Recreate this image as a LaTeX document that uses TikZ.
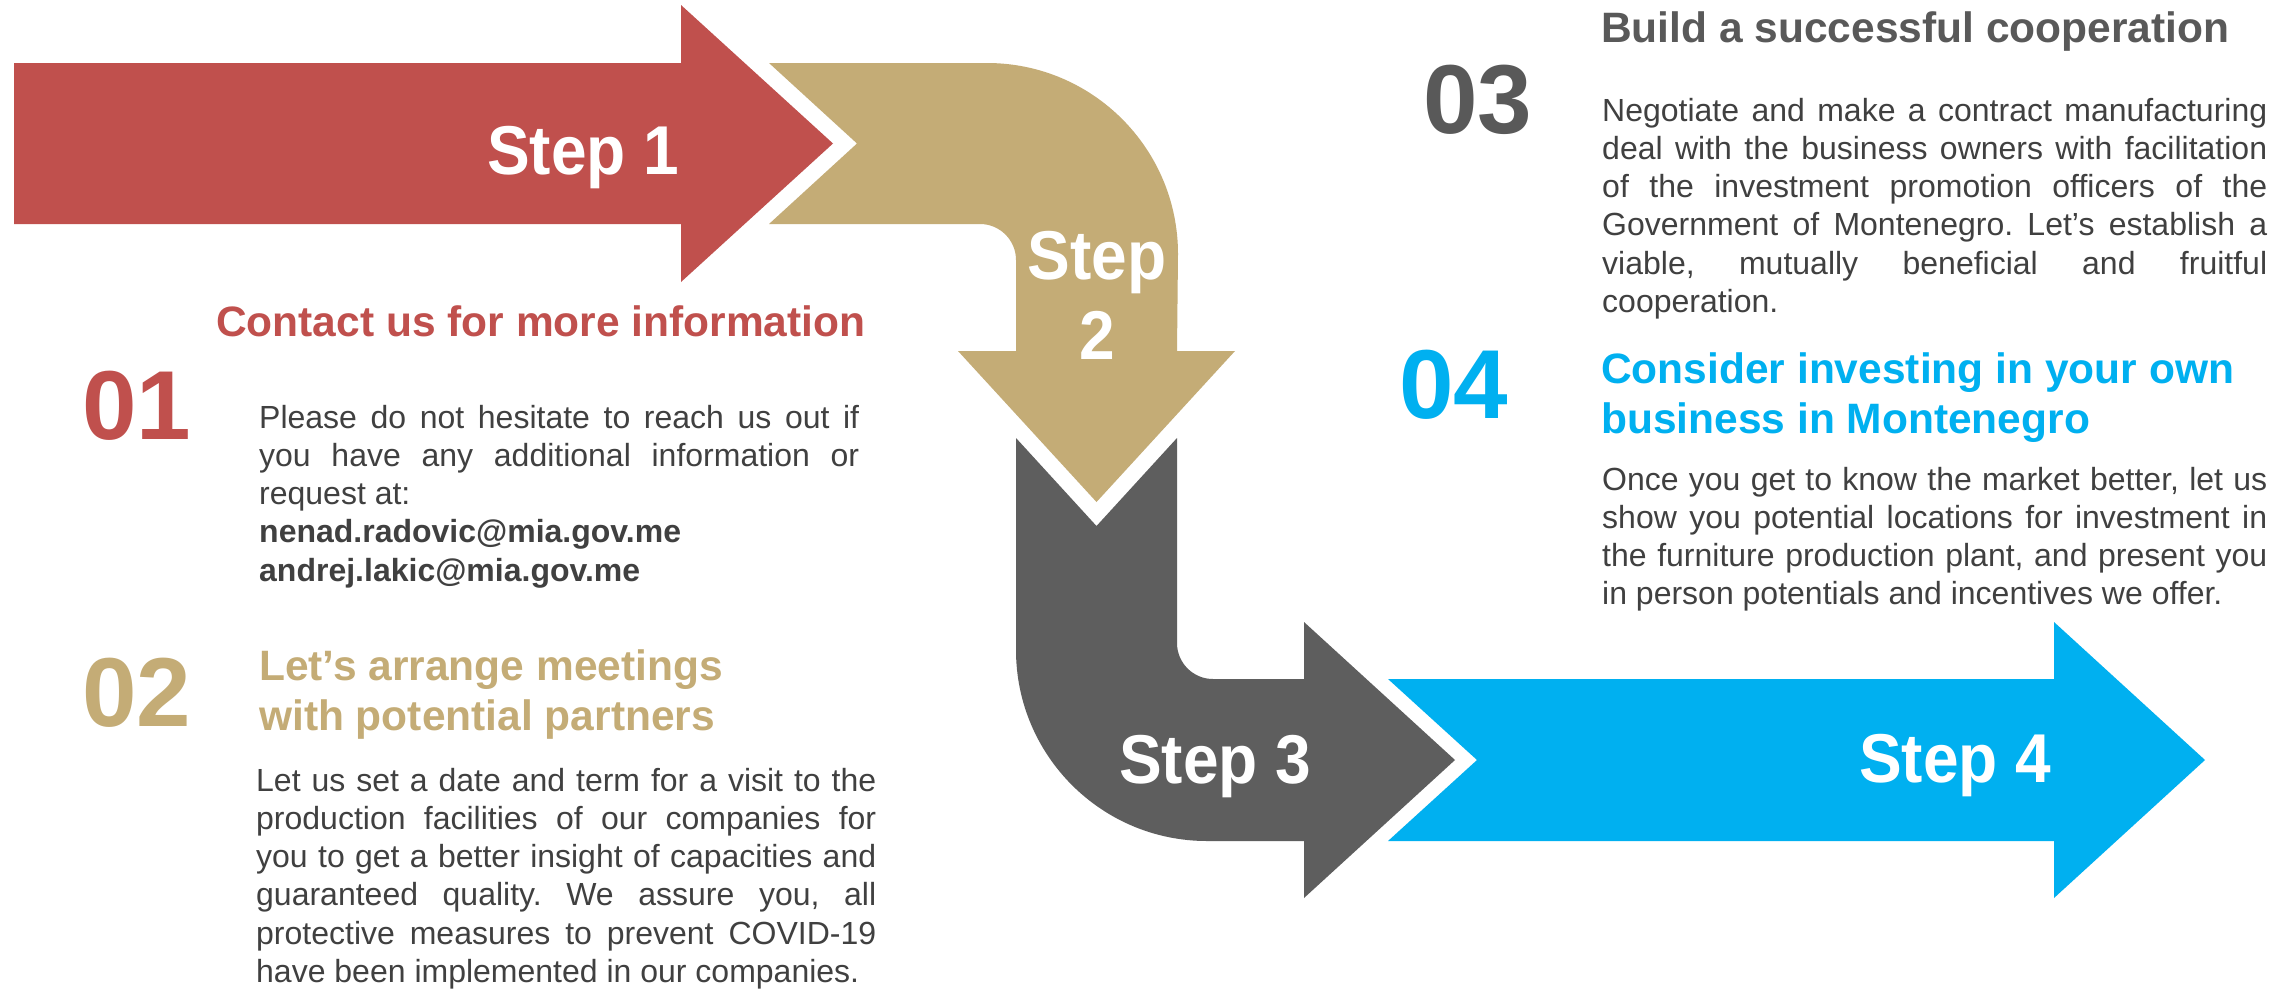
\documentclass[tikz,border=0pt]{standalone}
\usepackage{fontspec}
\setmainfont{Liberation Sans}
\usepackage{graphicx}
\definecolor{cred}{HTML}{C0504D}
\definecolor{cgold}{HTML}{C4AC76}
\definecolor{cgray}{HTML}{5E5E5E}
\definecolor{cblue}{HTML}{00B0F0}
\definecolor{ctext}{HTML}{404040}
\definecolor{chead}{HTML}{595959}
\newcommand{\stl}[1]{\scalebox{1}[1.08]{#1}}
\tolerance=10000
\hbadness=10000
\hyphenpenalty=10000
\exhyphenpenalty=10000
\frenchspacing
\begin{document}
\begin{tikzpicture}[x=1pt,y=-1pt,
  steplabel/.style={text=white, font=\fontsize{64}{78}\selectfont\bfseries, inner sep=0pt, anchor=base west},
  bignum/.style={font=\fontsize{98}{110}\selectfont\bfseries, inner sep=0pt, anchor=base west},
  headtext/.style={font=\fontsize{42.5}{50}\selectfont\bfseries, inner sep=0pt, anchor=base west, align=left},
  bodytext/.style={font=\fontsize{32}{38.3}\selectfont\frenchspacing, text=ctext, inner sep=0pt, anchor=base west, align=justify},
]
\useasboundingbox[fill=white] (0,0) rectangle (2292,989);

% Step 1 arrow (red)
\fill[cred] (14,63) -- (681,63) -- (681,5) -- (833,143.5) -- (681,282) -- (681,224) -- (14,224) -- cycle;

% Step 2 bent arrow (gold)
\fill[cgold] (769,63) -- (987,63) arc[start angle=-90, end angle=0, radius=191]
  -- (1177,351) -- (1235,351) -- (1096.5,502) -- (958,351) -- (1016,351) -- (1016,260)
  arc[start angle=0, end angle=-90, radius=36]
  -- (769,224) -- (857,143.5) -- cycle;

% Step 3 bent arrow (gray)
\fill[cgray] (1016,438) -- (1096.5,526) -- (1177,438) -- (1177,643)
  arc[start angle=180, end angle=90, radius=36]
  -- (1304,679) -- (1304,622) -- (1455,760) -- (1304,898) -- (1304,841) -- (1207,841)
  arc[start angle=90, end angle=180, radius=191] -- cycle;

% Step 4 arrow (blue)
\fill[cblue] (1388,679) -- (2054,679) -- (2054,622) -- (2205,760) -- (2054,898) -- (2054,841) -- (1388,841) -- (1477,760) -- cycle;

% step labels
\node[steplabel] (s1) at (487,174) {\stl{Step 1}};
\node[text=white, font=\fontsize{64}{80}\selectfont\bfseries, inner sep=0pt, anchor=base, align=center] (s2) at (1097,359) {\stl{Step}\\\stl{2}};
\node[steplabel] (s3) at (1119,783) {\stl{Step 3}};
\node[steplabel] (s4) at (1859,782) {\stl{Step 4}};

% block 01
\node[headtext, text=cred] (h1) at (216,336) {Contact us for more information};
\node[bignum, text=cred] (n1) at (82,439) {01};
\node[bodytext, text width=600pt] (p1) at (259,428) {Please do not hesitate to reach us out if\linebreak you have any additional information or\linebreak request at:\\\textbf{nenad.radovic@mia.gov.me}\\\textbf{andrej.lakic@mia.gov.me}};

% block 02
\node[bignum, text=cgold] (n2) at (82,726) {02};
\node[headtext, text=cgold] (h2) at (259,730) {Let’s arrange meetings\\with potential partners};
\node[bodytext, text width=620pt] (p2) at (256,791) {Let us set a date and term for a visit to the\linebreak production facilities of our companies for\linebreak you to get a better insight of capacities and\linebreak guaranteed quality. We assure you, all\linebreak protective measures to prevent COVID-19\linebreak have been implemented in our companies.};

% block 03
\node[headtext, text=chead] (h3) at (1601,42) {Build a successful cooperation};
\node[bignum, text=chead] (n3) at (1423,133) {03};
\node[bodytext, text width=665pt] (p3) at (1602,121) {Negotiate and make a contract manufacturing\linebreak deal with the business owners with facilitation\linebreak of the investment promotion officers of the\linebreak Government of Montenegro. Let’s establish a\linebreak viable, mutually beneficial and fruitful\linebreak cooperation.};

% block 04
\node[bignum, text=cblue] (n4) at (1399,418) {04};
\node[headtext, text=cblue] (h4) at (1601,433) {Consider investing in your own\\business in Montenegro};
\node[bodytext, text width=665pt] (p4) at (1602,490) {Once you get to know the market better, let us\linebreak show you potential locations for investment in\linebreak the furniture production plant, and present you\linebreak in person potentials and incentives we offer.};
\end{tikzpicture}
\end{document}
